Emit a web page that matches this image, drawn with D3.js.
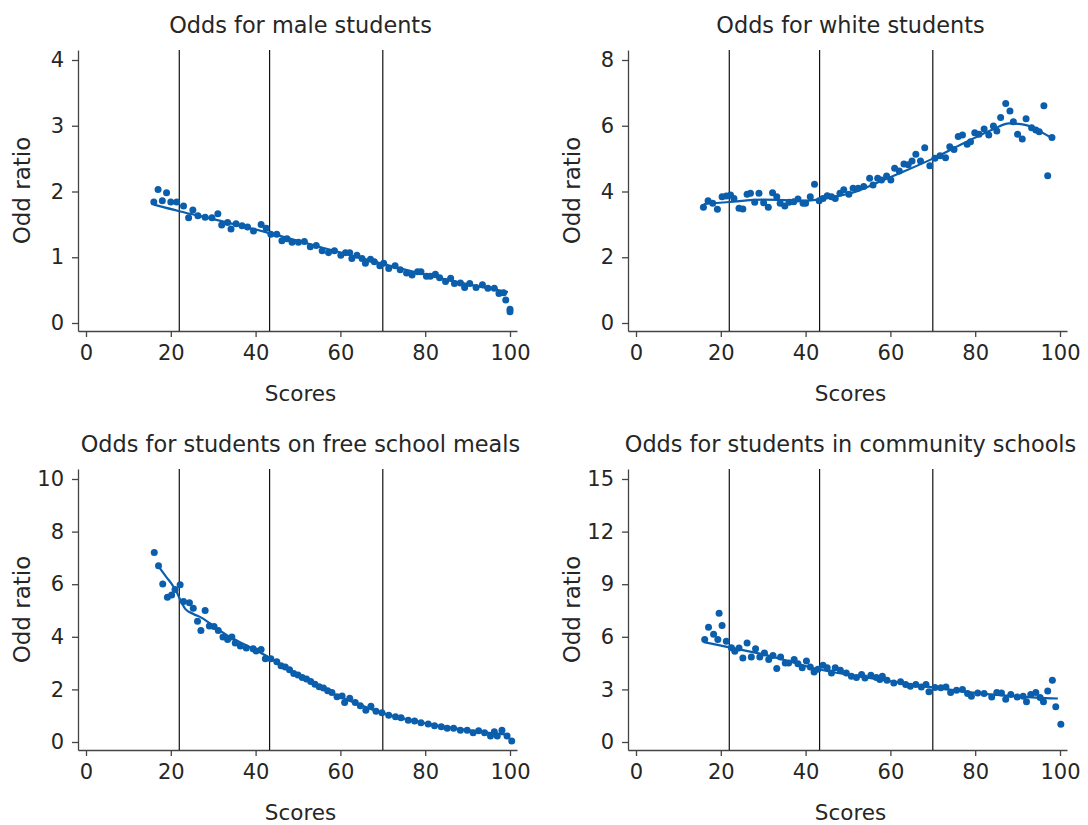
<!DOCTYPE html>
<html>
<head>
<meta charset="utf-8">
<script src="https://cdn.jsdelivr.net/npm/d3@7"></script>
<style>
  body { margin: 0; background: #fff; }
  text { font-family: "DejaVu Sans", sans-serif; fill: #262626; }
</style>
</head>
<body>
<div id="chart"></div>
<script>
// ---- data ----
var titles = ["Odds for male students", "Odds for white students",
              "Odds for students on free school meals", "Odds for students in community schools"]
var xTicks = [0, 20, 40, 60, 80, 100]
var yTicks = [[0, 1, 2, 3, 4], [0, 2, 4, 6, 8], [0, 2, 4, 6, 8, 10], [0, 3, 6, 9, 12, 15]]
var cutScores = [22, 43.3, 70]

var maleX = [16,17,18,19,20,21.4,23,24.2,25.2,26.4,28.1,29.7,31.1,32,33.4,34.2,35.4,36.8,38.1,39.5,41.3,42.5,43.6,45,46.2,47.4,48.6,50.1,51.5,52.9,54.3,55.7,57.2,58.6,60.1,61.2,62.2,62.7,63.9,65.1,65.9,67.1,68,69.3,70.2,71.4,72.9,74.1,75.6,76.9,78.2,79,80.3,81.2,82.4,83.4,84.8,86,86.9,88.3,89.3,90.5,92,93.5,94.8,96.3,97.4,98.5,99,100,100]
var maleY = [1.84,2.03,1.86,1.98,1.84,1.84,1.78,1.60,1.72,1.63,1.61,1.60,1.66,1.49,1.53,1.43,1.51,1.48,1.46,1.40,1.50,1.44,1.35,1.35,1.25,1.28,1.23,1.23,1.24,1.16,1.18,1.10,1.07,1.10,1.03,1.07,1.07,0.98,1.03,0.98,0.91,0.97,0.93,0.87,0.91,0.83,0.87,0.81,0.76,0.73,0.78,0.78,0.71,0.71,0.74,0.69,0.63,0.68,0.60,0.61,0.54,0.60,0.54,0.58,0.53,0.53,0.45,0.46,0.35,0.21,0.17]
var maleLineX = [16, 22, 30, 43, 55, 70, 85, 99.5]
var maleLineY = [1.80, 1.70, 1.58, 1.37, 1.16, 0.90, 0.66, 0.47]

var whiteX = [15.9,17,18.1,19.2,20.3,21.3,22.3,23.1,24.3,25.2,26.2,27,28,29,30.1,31.2,32.2,33.2,34,35.1,36.1,37.2,38.2,39.4,40,41.1,42.1,43.2,44.1,45.1,46.1,47,48.1,49,50.2,51.2,52.4,53.7,55.1,55.9,57,57.9,59.1,60.1,61,62.1,63.2,64.2,65.1,66,67.1,68.1,69.3,70.5,71.7,73,74,75,76,77,78.1,78.9,79.9,80.9,82.1,83.2,84.3,85.1,86,87.2,88.2,89,90,91.1,92,93.3,94.3,95.1,96.2,97.1,98.1]
var whiteY = [3.52,3.72,3.64,3.46,3.84,3.86,3.89,3.79,3.49,3.47,3.92,3.95,3.67,3.95,3.66,3.52,3.96,3.84,3.64,3.56,3.67,3.69,3.77,3.64,3.64,3.84,4.22,3.72,3.79,3.87,3.84,3.79,3.95,4.05,3.92,4.10,4.10,4.15,4.40,4.20,4.40,4.35,4.47,4.35,4.71,4.62,4.84,4.81,4.93,5.13,4.93,5.33,4.78,5.01,5.09,5.03,5.36,5.28,5.67,5.72,5.44,5.51,5.79,5.74,5.90,5.72,5.99,5.84,6.25,6.68,6.45,6.12,5.74,5.60,6.21,5.94,5.87,5.82,6.61,4.48,5.64]
var whiteLineX = [16, 22, 30, 40, 45, 52, 58, 63, 70, 77, 84, 88, 92, 95, 98]
var whiteLineY = [3.62, 3.68, 3.75, 3.72, 3.80, 4.00, 4.33, 4.60, 5.00, 5.45, 5.88, 6.07, 6.02, 5.85, 5.63]

var fsmX = [16.1,17.1,18.1,19.2,20.2,21,22.2,23,24.4,25.3,26.3,27.1,28.1,29.1,30.2,31.2,32.3,33.4,34.4,35.2,36.4,37.8,39.4,40.1,41.3,42.3,43.6,45,46,47,48,49,50,51,52,53,54,55,56,57,58,59.2,60.4,61,62.2,63.5,64.7,66,67.2,68.4,69.8,71.4,73,74.3,76,77.5,79,80.7,82.2,83.8,85.2,86.7,88.3,89.9,91.3,92.6,94,95.4,96.3,97,98.1,99.3,100.4]
var fsmY = [7.21,6.70,6.01,5.50,5.59,5.80,5.98,5.34,5.29,5.09,4.59,4.24,5.00,4.41,4.39,4.24,3.99,3.90,3.99,3.76,3.65,3.57,3.55,3.46,3.52,3.17,3.17,3.05,2.90,2.85,2.75,2.60,2.55,2.45,2.40,2.30,2.20,2.10,2.05,1.95,1.88,1.72,1.75,1.50,1.66,1.50,1.38,1.21,1.36,1.17,1.11,1.02,0.96,0.92,0.83,0.80,0.73,0.68,0.62,0.58,0.52,0.52,0.45,0.45,0.35,0.43,0.35,0.23,0.39,0.23,0.45,0.23,0.04]
var fsmLineX = [17, 19, 20.2, 21.4, 22.6, 23.4, 25.3, 27.3, 30.9, 34, 37.9, 43, 50, 58, 64, 70, 76, 83, 90, 95, 99.5]
var fsmLineY = [6.70, 6.26, 6.01, 5.69, 5.28, 5.06, 4.87, 4.72, 4.31, 3.99, 3.67, 3.23, 2.55, 1.85, 1.45, 1.10, 0.85, 0.62, 0.45, 0.35, 0.28]

var commX = [16.2,17.1,18.3,19.3,19.6,20.3,21.3,22.5,23.3,24.3,25.2,26.2,27.2,28.2,29.2,30.3,31.3,32.3,33.2,34.1,35.2,36,37.3,38.2,39.2,40.2,41.1,42,42.9,44.1,45.1,46.1,47,48.2,49.6,50.8,52,53.2,54,55.4,56.7,57.5,58.1,59.2,60.8,62.4,63.6,64.7,66,67.3,68.4,69.1,70.5,71.9,73.1,74.2,75.6,77,78.2,79.1,80.6,82.1,83.9,85.1,86.2,87.2,88.4,89.9,91.3,92.1,93.1,94.3,95.3,96.1,97.1,98.2,99,100.2]
var commY = [5.85,6.55,6.14,5.84,7.35,6.65,5.74,5.38,5.17,5.36,4.79,5.64,4.85,5.32,4.85,5.07,4.70,4.94,4.19,4.85,4.51,4.51,4.70,4.47,4.24,4.62,4.28,3.99,4.15,4.38,4.24,3.94,4.24,4.09,3.94,3.75,3.68,3.85,3.65,3.81,3.68,3.56,3.75,3.52,3.37,3.43,3.28,3.18,3.28,3.14,3.28,2.86,3.11,3.09,3.14,2.82,2.95,2.99,2.77,2.61,2.80,2.77,2.57,2.82,2.80,2.44,2.71,2.57,2.61,2.29,2.71,2.82,2.54,2.29,2.91,3.52,2.01,1.01]
var commLineX = [16, 22, 30, 43, 55, 70, 81, 88, 94.5, 99.5]
var commLineY = [5.70, 5.40, 5.00, 4.15, 3.65, 3.12, 2.77, 2.63, 2.53, 2.48]

// ---- layout ----
var width = 1088, height = 825
var blue = "#0a5eab"
var pw = 439, ph = 281
var lefts = [78, 628, 78, 628]
var tops = [50, 50, 469, 469]

var series = [
  {x: maleX, y: maleY, lx: maleLineX, ly: maleLineY},
  {x: whiteX, y: whiteY, lx: whiteLineX, ly: whiteLineY},
  {x: fsmX, y: fsmY, lx: fsmLineX, ly: fsmLineY},
  {x: commX, y: commY, lx: commLineX, ly: commLineY}
]

var svg = d3.select("#chart").append("svg")
    .attr("width", width)
    .attr("height", height)

series.forEach(function(s, k){
  var g = svg.append("g")
      .attr("transform", "translate(" + lefts[k] + "," + tops[k] + ")")

  var ticks = yTicks[k]
  var yMax = ticks[ticks.length - 1]
  var y0 = d3.scaleLinear().domain([0, yMax]).range([273, 10])
  var y = d3.scaleLinear().domain([y0.invert(ph), y0.invert(0)]).range([ph, 0])
  var x0 = d3.scaleLinear().domain([0, 100]).range([8, 432])
  var x = d3.scaleLinear().domain([x0.invert(0), x0.invert(pw)]).range([0, pw])

  var xAxis = g.append("g")
      .attr("transform", "translate(0," + ph + ")")
      .call(d3.axisBottom(x).tickValues(xTicks).tickFormat(d3.format("d"))
        .tickSize(6).tickSizeOuter(0).tickPadding(8))
  var yAxis = g.append("g")
      .call(d3.axisLeft(y).tickValues(ticks).tickFormat(d3.format("d"))
        .tickSize(6).tickSizeOuter(0).tickPadding(8))

  ;[xAxis, yAxis].forEach(function(a){
    a.select(".domain").attr("stroke", "#444").attr("stroke-width", 1.3)
    a.selectAll(".tick line").attr("stroke", "#444").attr("stroke-width", 1.3)
    a.selectAll(".tick text").attr("font-size", 21).attr("fill", "#262626")
      .attr("font-family", "DejaVu Sans, sans-serif")
  })

  // cut score lines
  g.selectAll(".cut")
    .data(cutScores)
    .enter()
    .append("line")
    .attr("x1", function(d){ return x(d) })
    .attr("x2", function(d){ return x(d) })
    .attr("y1", 0)
    .attr("y2", ph)
    .attr("stroke", "#111")
    .attr("stroke-width", 1.2)

  var line = d3.line()
      .x(function(d){ return x(d[0]) })
      .y(function(d){ return y(d[1]) })
      .curve(d3.curveMonotoneX)
  g.append("path")
    .datum(d3.zip(s.lx, s.ly))
    .attr("d", line)
    .attr("fill", "none")
    .attr("stroke", blue)
    .attr("stroke-width", 2.2)

  g.selectAll(".pt")
    .data(d3.zip(s.x, s.y))
    .enter()
    .append("circle")
    .attr("cx", function(d){ return x(d[0]) })
    .attr("cy", function(d){ return y(d[1]) })
    .attr("r", 3.5)
    .attr("fill", blue)

  g.append("text")
    .attr("x", pw / 2 + 3)
    .attr("y", -17)
    .attr("text-anchor", "middle")
    .attr("font-size", 22.4)
    .text(titles[k])

  g.append("text")
    .attr("x", pw / 2 + 3)
    .attr("y", ph + 70)
    .attr("text-anchor", "middle")
    .attr("font-size", 21.5)
    .text("Scores")

  g.append("text")
    .attr("transform", "translate(-48," + (ph / 2) + ") rotate(-90)")
    .attr("text-anchor", "middle")
    .attr("font-size", 23)
    .text("Odd ratio")
})
</script>
</body>
</html>
